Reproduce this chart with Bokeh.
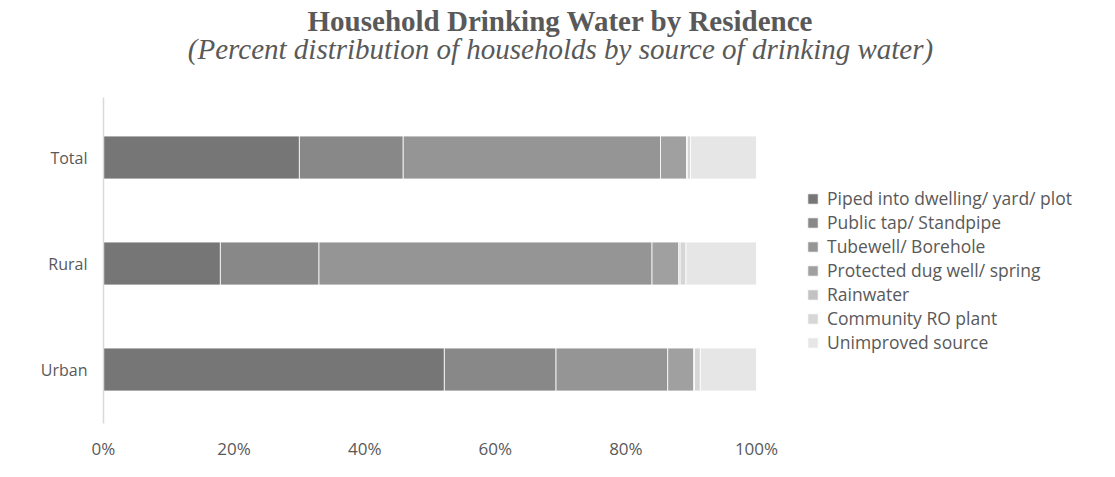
from bokeh.plotting import figure
from bokeh.layouts import column
from bokeh.models import (ColumnDataSource, Range1d, FixedTicker, Legend,
                          PrintfTickFormatter)
from bokeh.core.properties import value
from bokeh.embed import file_html
from bokeh.resources import INLINE

# ---- data ----
title_text = "Household Drinking Water by Residence"
subtitle_text = "(Percent distribution of households by source of drinking water)"
categories = ["Urban", "Rural", "Total"]
positions = [0, 1, 2]
piped = [52.2, 17.9, 30.0]
public_tap = [17.1, 15.1, 15.9]
tubewell = [17.1, 51.0, 39.4]
protected_well = [4.0, 4.1, 4.0]
rainwater = [0.1, 0.2, 0.1]
community_ro = [0.9, 0.9, 0.5]
unimproved = [8.6, 10.8, 10.1]
series_names = ["Piped into dwelling/ yard/ plot", "Public tap/ Standpipe",
                "Tubewell/ Borehole", "Protected dug well/ spring", "Rainwater",
                "Community RO plant", "Unimproved source"]
series_keys = ["piped", "public_tap", "tubewell", "protected_well", "rainwater",
               "community_ro", "unimproved"]
colors = ["#767676", "#888888", "#959595", "#a0a0a0", "#c2c2c2", "#d6d6d6", "#e6e6e6"]
x_ticks = [0, 20, 40, 60, 80, 100]

font = "Open Sans"
txt = "#595959"
W, H = 1115, 477
HEAD = 97
frame_left = 103
frame_right = 1105

# ---- header figure (titles); its frame aligns with the chart frame in the column ----
head = figure(width=W, height=HEAD, output_backend="svg", toolbar_location=None,
              x_range=Range1d(frame_left, frame_right), y_range=Range1d(HEAD, 0),
              min_border_left=frame_left, min_border_right=W - frame_right,
              min_border_top=0, min_border_bottom=0, outline_line_color=None)
head.axis.visible = False
head.grid.visible = False
head.text(x=[W / 2 + 2.5], y=[20], text=[title_text], text_align="center",
          text_baseline="middle", text_font=value("Liberation Serif"),
          text_font_style="bold", text_font_size="29px", text_color=txt)
head.text(x=[W / 2 + 2.5], y=[48], text=[subtitle_text], text_align="center",
          text_baseline="middle", text_font=value("Liberation Serif"),
          text_font_style="italic", text_font_size="29px", text_color=txt)

# ---- chart ----
source = ColumnDataSource(dict(y=positions, piped=piped, public_tap=public_tap,
                               tubewell=tubewell, protected_well=protected_well,
                               rainwater=rainwater, community_ro=community_ro,
                               unimproved=unimproved))

H2 = H - HEAD
frame_bottom = 423 - HEAD
px_per_pct = (756 - 103) / 100.0
x_end = (frame_right - frame_left) / px_per_pct

p = figure(width=W, height=H2, output_backend="svg", toolbar_location=None,
           x_range=Range1d(0, x_end), y_range=Range1d(-0.509, 2.566),
           min_border_left=frame_left, min_border_right=W - frame_right,
           min_border_top=0, min_border_bottom=H2 - frame_bottom)
p.frame_width = frame_right - frame_left
p.frame_height = frame_bottom

renderers = p.hbar_stack(series_keys, y="y", height=0.405, color=colors,
                         line_color="white", line_width=0.8, source=source)

p.xgrid.visible = False
p.ygrid.visible = False
p.outline_line_color = None
p.background_fill_color = "white"
p.border_fill_color = "white"

p.xaxis.ticker = FixedTicker(ticks=x_ticks)
p.xaxis.formatter = PrintfTickFormatter(format="%d%%")
p.xaxis.axis_line_color = None
p.xaxis.major_tick_line_color = None
p.xaxis.minor_tick_line_color = None
p.xaxis.major_label_text_font = font
p.xaxis.major_label_text_font_size = "17px"
p.xaxis.major_label_text_color = txt
p.xaxis.major_label_standoff = 7

p.yaxis.ticker = FixedTicker(ticks=positions)
p.yaxis.major_label_overrides = {pos: c for pos, c in zip(positions, categories)}
p.yaxis.axis_line_color = "#d9d9d9"
p.yaxis.axis_line_width = 1.5
p.yaxis.major_tick_line_color = None
p.yaxis.minor_tick_line_color = None
p.yaxis.major_label_text_font = font
p.yaxis.major_label_text_font_size = "16px"
p.yaxis.major_label_text_color = txt
p.yaxis.major_label_standoff = 10

legend = Legend(items=[(n, [r]) for n, r in zip(series_names, renderers)],
                location=(703, 69), orientation="vertical",
                label_text_font=font, label_text_font_size="17.5px",
                label_text_line_height=1.0,
                label_text_color=txt, glyph_width=13, glyph_height=13,
                label_height=22, spacing=0, padding=0, margin=0,
                label_standoff=8, border_line_color=None,
                background_fill_alpha=0)
p.add_layout(legend, "center")

layout = column(head, p, spacing=0)
open("out.html", "w").write(file_html(layout, INLINE))
